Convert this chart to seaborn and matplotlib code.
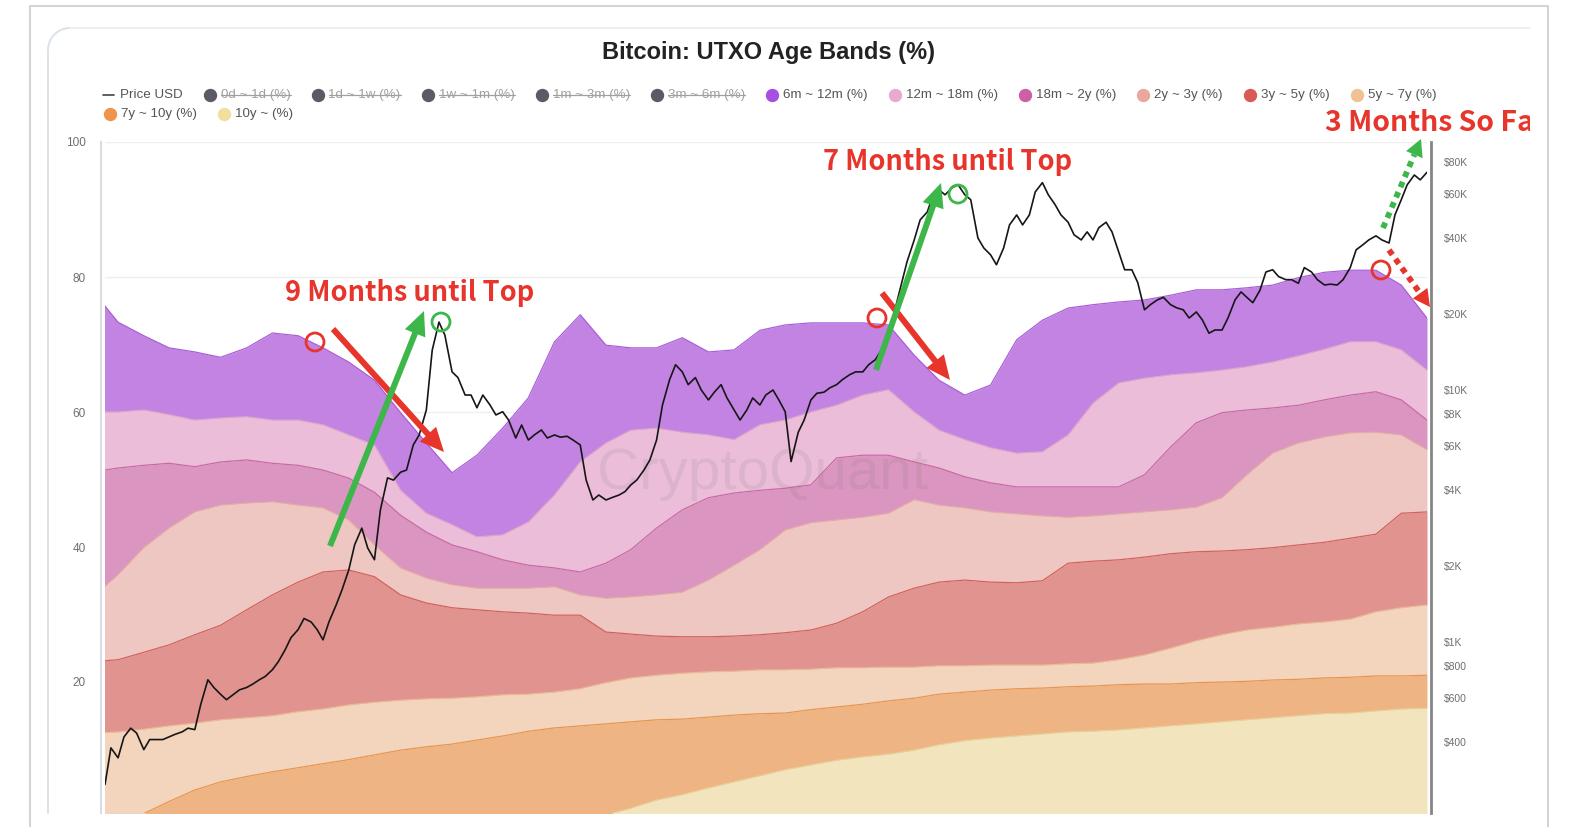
"""Bitcoin UTXO Age Bands (%) con precio en escala log y anotaciones."""

import matplotlib
matplotlib.use("Agg")
import matplotlib.pyplot as plt
from matplotlib.patches import Arc, Circle, FancyArrow
from matplotlib.ticker import NullFormatter, NullLocator
from matplotlib.transforms import Bbox, TransformedBbox
import numpy as np
import pandas as pd
import seaborn as sns

W, H = 1569, 827

# --- Datos: % del supply mas viejo que cada corte (bordes de las bandas) ---
band_dates = pd.date_range("2015-09-01", periods=53, freq="2MS")

older_6m = [78.0, 73.3, 71.3, 69.5, 68.9, 68.1, 69.5, 71.7, 71.3, 69.5,
            67.4, 64.7, 59.9, 55.4, 51.0, 53.6, 57.6, 62.1, 70.4, 74.4,
            69.9, 69.5, 69.5, 71.0, 68.9, 69.2, 72.1, 72.9, 73.2, 73.2,
            73.2, 72.9, 68.4, 64.7, 62.5, 64.0, 70.7, 73.6, 75.4, 75.9,
            76.3, 76.6, 77.3, 78.1, 78.1, 78.4, 78.8, 79.9, 80.7, 81.0,
            81.0, 78.8, 73.9]
older_12m = [60.0, 60.0, 60.3, 59.6, 58.8, 59.1, 59.3, 58.8, 58.8, 58.1,
             56.6, 55.1, 48.4, 45.0, 43.3, 41.5, 41.8, 43.7, 47.7, 52.6,
             55.4, 57.3, 57.6, 57.0, 56.6, 55.9, 58.1, 58.8, 60.0, 61.0,
             62.5, 63.3, 60.0, 57.3, 55.9, 54.7, 53.9, 54.1, 56.6, 61.3,
             64.3, 65.0, 65.5, 65.8, 66.2, 66.7, 67.4, 68.3, 69.3, 70.4,
             70.4, 69.2, 66.2]
older_18m = [51.1, 51.7, 52.1, 52.4, 51.9, 52.6, 52.9, 52.4, 52.1, 51.4,
             50.2, 48.1, 44.7, 42.2, 40.3, 39.3, 38.1, 37.3, 36.9, 36.3,
             37.6, 39.6, 42.8, 45.5, 47.3, 48.0, 48.4, 48.7, 49.2, 53.2,
             53.6, 53.6, 52.6, 51.7, 50.4, 49.5, 48.9, 48.9, 48.9, 48.9,
             48.9, 50.7, 54.8, 58.4, 59.9, 60.3, 60.6, 61.0, 61.8, 62.5,
             63.0, 61.8, 58.8]
older_2y = [32.5, 35.9, 39.9, 42.8, 45.2, 46.2, 46.5, 46.7, 46.2, 45.8,
            44.0, 40.3, 36.9, 35.4, 34.4, 33.9, 33.9, 33.9, 34.1, 32.9,
            32.4, 32.6, 32.9, 33.3, 35.1, 37.3, 39.6, 42.5, 43.6, 44.0,
            44.4, 45.0, 47.0, 46.2, 45.8, 45.2, 44.9, 44.6, 44.4, 44.6,
            44.9, 45.2, 45.5, 45.9, 47.3, 50.7, 53.9, 55.4, 56.3, 56.9,
            57.0, 56.6, 54.4]
older_3y = [23.0, 23.3, 24.4, 25.5, 27.0, 28.4, 30.7, 32.9, 34.8, 36.3,
            36.6, 35.6, 32.9, 31.7, 31.0, 30.7, 30.4, 30.2, 29.9, 29.9,
            27.4, 27.1, 26.8, 26.7, 26.7, 26.8, 27.0, 27.3, 27.7, 28.7,
            30.4, 32.6, 33.9, 34.8, 35.1, 34.8, 34.7, 35.0, 37.6, 37.9,
            38.1, 38.5, 39.0, 39.3, 39.4, 39.6, 39.9, 40.3, 40.7, 41.3,
            41.9, 45.0, 45.2]
older_5y = [12.4, 12.6, 13.0, 13.5, 13.9, 14.4, 14.7, 15.0, 15.6, 16.0,
            16.6, 17.0, 17.3, 17.5, 17.6, 17.8, 18.1, 18.2, 18.5, 19.0,
            19.9, 20.6, 21.0, 21.3, 21.5, 21.6, 21.8, 21.8, 21.9, 22.1,
            22.1, 22.2, 22.2, 22.4, 22.4, 22.5, 22.5, 22.5, 22.7, 22.8,
            23.3, 24.0, 25.0, 26.1, 27.0, 27.7, 28.1, 28.6, 28.9, 29.3,
            30.4, 31.0, 31.4]
older_7y = [0.0, 0.0, 0.5, 2.3, 4.0, 5.2, 6.0, 6.7, 7.3, 7.9,
            8.5, 9.2, 9.9, 10.4, 10.8, 11.4, 12.0, 12.7, 13.2, 13.5,
            13.8, 14.1, 14.4, 14.5, 14.8, 15.1, 15.3, 15.4, 15.9, 16.3,
            16.7, 17.2, 17.6, 18.2, 18.5, 18.8, 19.0, 19.1, 19.3, 19.4,
            19.6, 19.7, 19.7, 19.9, 20.0, 20.1, 20.3, 20.4, 20.6, 20.7,
            20.9, 20.9, 21.0]
older_10y = [0.0, 0.0, 0.0, 0.0, 0.0, 0.0, 0.0, 0.0, 0.0, 0.0,
             0.0, 0.0, 0.0, 0.0, 0.0, 0.0, 0.0, 0.0, 0.0, 0.0,
             0.3, 1.3, 2.5, 3.3, 4.3, 5.2, 6.1, 7.0, 7.7, 8.4,
             8.9, 9.3, 9.9, 10.7, 11.3, 11.7, 12.0, 12.3, 12.6, 12.7,
             12.9, 13.2, 13.5, 13.8, 14.1, 14.4, 14.7, 15.0, 15.3, 15.4,
             15.7, 16.0, 16.1]

# Precio BTC (USD), cada medio mes
price_dates = pd.date_range("2015-10-01", periods=207, freq="SMS")
price_usd = [
    272, 380, 347, 420, 455, 435, 374, 410, 410, 410,
    420, 430, 440, 455, 449, 565, 708, 660, 620, 590,
    620, 646, 660, 680, 708, 730, 776, 835, 930, 1040,
    1120, 1240, 1200, 1120, 1020, 1200, 1400, 1610, 1930, 2430,
    2830, 2360, 2120, 3340, 4480, 4390, 4720, 4810, 6050, 6630,
    8330, 14400, 18600, 16500, 11800, 11200, 9550, 9550, 8500, 9550,
    8720, 7960, 8200, 7600, 6450, 7260, 6330, 6630, 6940, 6450,
    6630, 6500, 6550, 6330, 6050, 4390, 3660, 3830, 3660, 3740,
    3830, 3950, 4200, 4390, 4810, 5270, 6330, 8720, 11000, 12600,
    11800, 10500, 11200, 10000, 9130, 9800, 10500, 9300, 8330, 7600,
    8330, 9300, 8720, 9550, 10000, 9130, 8200, 5200, 6800, 7600,
    9130, 9700, 9800, 10200, 10500, 11000, 11500, 11800, 11800, 12600,
    13200, 14400, 16500, 20400, 26100, 32300, 39400, 47300, 50900, 59500,
    62300, 59500, 63500, 65200, 59500, 56900, 40100, 36600, 34400, 31400,
    36600, 45200, 49500, 45200, 49500, 61100, 66500, 59500, 54400, 49500,
    46300, 41300, 39400, 42400, 39400, 44100, 46300, 42400, 35300, 30000,
    30000, 26700, 20800, 21800, 22800, 23300, 21800, 21200, 20800, 19300,
    20400, 19000, 16800, 17300, 17300, 19300, 22800, 24500, 23300, 22200,
    24900, 29400, 30000, 28200, 27400, 27400, 26500, 30600, 29400, 27400,
    26100, 26300, 26100, 27400, 30600, 36000, 37700, 39400, 40900, 39400,
    38300, 49500, 56900, 65200, 71300, 68200, 73100,
]

pct_ticks = [20, 40, 60, 80, 100]
price_ticks = [400, 600, 800, 1000, 2000, 4000, 6000, 8000,
               10000, 20000, 40000, 60000, 80000]
price_tick_labels = ["$400", "$600", "$800", "$1K", "$2K", "$4K", "$6K", "$8K",
                     "$10K", "$20K", "$40K", "$60K", "$80K"]

hidden_labels = ["0d ~ 1d (%)", "1d ~ 1w (%)", "1w ~ 1m (%)", "1m ~ 3m (%)", "3m ~ 6m (%)"]
band_labels = ["6m ~ 12m (%)", "12m ~ 18m (%)", "18m ~ 2y (%)", "2y ~ 3y (%)",
               "3y ~ 5y (%)", "5y ~ 7y (%)", "7y ~ 10y (%)", "10y ~ (%)"]
band_fill = ["#c383e2", "#ebbdd8", "#da95c0", "#efc7c2",
             "#e0938f", "#f3d4bd", "#efb483", "#f2e4bc"]
band_edge = ["#a85fd8", "#dda6c9", "#c96aa4", "#e4aca6",
             "#d3625d", "#eab995", "#e8964f", "#e7d09a"]
band_dot = ["#a64fe0", "#e9a9d3", "#cd5fa5", "#eaa89d",
            "#d85b55", "#f0c293", "#ef954b", "#f1df9e"]
hidden_dot = "#5b5b66"

RED = "#e7352b"
GREEN = "#3db64a"

sns.set_theme(style="white")
plt.rcParams["font.family"] = ["Liberation Sans", "DejaVu Sans"]
ANNOT_FONT = ["Noto Sans CJK KR", "DejaVu Sans"]

fig = plt.figure(figsize=(W / 100, H / 100), dpi=100)
fig.patch.set_facecolor("white")

# --- Fondo: marco de captura y tarjeta ---
bg = fig.add_axes([0, 0, 1, 1])
bg.set_xlim(0, W)
bg.set_ylim(H, 0)
bg.axis("off")
bg.plot([30, 30, 1548, 1548], [H, 6, 6, H], color="#d4d4d4", lw=1.5)
bg.plot([48, 48], [813, 50], color="#dbe2ea", lw=1.4)
bg.add_patch(Arc((70, 50), 44, 44, theta1=180, theta2=270, color="#dbe2ea", lw=1.4))
bg.plot([70, 1530], [28, 28], color="#e9edf2", lw=1.2)

# --- Grafico principal ---
ax = fig.add_axes([105 / W, 1 - 813 / H, 1322 / W, 671 / H])
ax.set_facecolor("white")

levels = [older_6m, older_12m, older_18m, older_2y, older_3y,
          older_5y, older_7y, older_10y, np.zeros(len(band_dates))]
for i in range(len(band_labels)):
    ax.fill_between(band_dates, levels[i + 1], levels[i],
                    color=band_fill[i], lw=0, zorder=2)
    ax.plot(band_dates, levels[i], color=band_edge[i], lw=0.9, zorder=3)

ax.set_xlim(pd.Timestamp("2015-10-01"), pd.Timestamp("2024-05-01"))
ax.set_ylim(4 / 6.75, 100)
ax.set_yticks(pct_ticks)
ax.set_yticklabels([str(t) for t in pct_ticks])
ax.grid(axis="y", color="#efefef", lw=1)
ax.set_axisbelow(True)
ax.tick_params(axis="x", bottom=False, labelbottom=False)
ax.tick_params(axis="y", left=False, length=0, pad=10.8, labelsize=8.5, labelcolor="#6f6f6f")
for lbl in ax.get_yticklabels():
    lbl.set_horizontalalignment("left")
for side in ["top", "bottom", "right"]:
    ax.spines[side].set_visible(False)
ax.spines["left"].set_position(("outward", 3))
ax.spines["left"].set_color("#d9dde3")
ax.spines["left"].set_linewidth(1.5)
ax.set_xlabel("")
ax.text(0.497, 0.505, "CryptoQuant", transform=ax.transAxes, ha="center", va="center",
        fontsize=42, color="#777777", alpha=0.13, zorder=5)

# Precio en eje derecho logaritmico
ax2 = ax.twinx()
price_df = pd.DataFrame({"date": price_dates, "price": price_usd})
sns.lineplot(data=price_df, x="date", y="price", ax=ax2, color="#161616", linewidth=1.2)
ax2.set_yscale("log")
ax2.set_ylim(209.6, 96400)
ax2.set_xlim(pd.Timestamp("2015-10-01"), pd.Timestamp("2024-05-01"))
ax2.set_yticks(price_ticks)
ax2.set_yticklabels(price_tick_labels)
ax2.yaxis.set_minor_locator(NullLocator())
ax2.yaxis.set_minor_formatter(NullFormatter())
ax2.tick_params(axis="y", right=False, length=0, pad=9.4, labelsize=7.5, labelcolor="#6f6f6f")
ax2.tick_params(axis="x", bottom=False, labelbottom=False)
ax2.set_xlabel("")
ax2.set_ylabel("")
for side in ["top", "bottom", "left"]:
    ax2.spines[side].set_visible(False)
ax2.spines["right"].set_position(("outward", 3))
ax2.spines["right"].set_color("#858585")
ax2.spines["right"].set_linewidth(2)

# --- Capa de anotaciones en pixeles ---
ov = fig.add_axes([0, 0, 1, 1])
ov.set_xlim(0, W)
ov.set_ylim(H, 0)
ov.axis("off")

ov.text(769, 52, "Bitcoin: UTXO Age Bands (%)", ha="center", va="center",
        fontsize=17, fontweight="bold", color="#222222")

# Leyenda en flujo, como la del sitio
renderer = fig.canvas.get_renderer()
inv = ov.transData.inverted()
LEG_FS = 9.6


def text_span(t):
    bb = t.get_window_extent(renderer)
    return inv.transform((bb.x1, bb.y0))[0], inv.transform((bb.x0, bb.y0))[0]


row_y = [95, 114]
row = 0
ov.plot([103, 114], [row_y[0], row_y[0]], color="#444444", lw=1.2)
t = ov.text(120, row_y[0], "Price USD", va="center", fontsize=LEG_FS, color="#555555")
x = text_span(t)[0] + 21

items = [(lab, hidden_dot, True) for lab in hidden_labels]
items += [(lab, c, False) for lab, c in zip(band_labels, band_dot)]
for lab, c, hidden in items:
    t = ov.text(x + 17, row_y[row], lab, va="center", fontsize=LEG_FS,
                color="#a0a0a0" if hidden else "#555555")
    x1, x0 = text_span(t)
    if x1 > 1450:
        row += 1
        x = 104
        t.set_position((x + 17, row_y[row]))
        x1, x0 = text_span(t)
    ov.plot(x + 6, row_y[row], "o", ms=8.6, color=c, mec=c)
    if hidden:
        ov.plot([x0, x1], [row_y[row], row_y[row]], color="#a0a0a0", lw=0.9)
    x = x1 + 21


def arrow(tail, tip, color, dotted=False):
    (x0, y0), (x1, y1) = tail, tip
    if not dotted:
        ov.add_patch(FancyArrow(x0, y0, x1 - x0, y1 - y0, width=6, head_width=22,
                                head_length=24, length_includes_head=True,
                                color=color, lw=0))
        return
    L = np.hypot(x1 - x0, y1 - y0)
    ux, uy = (x1 - x0) / L, (y1 - y0) / L
    hl = 17
    bx, by = x1 - ux * hl, y1 - uy * hl
    ov.plot([x0, bx], [y0, by], color=color, lw=4.2, linestyle=(0, (1.0, 0.9)),
            dash_capstyle="butt")
    ov.add_patch(FancyArrow(bx, by, x1 - bx, y1 - by, width=0.5, head_width=18,
                            head_length=hl, length_includes_head=True, color=color, lw=0))


def ring(xy, color):
    ov.add_patch(Circle(xy, 9, fill=False, ec=color, lw=2))


# Ciclo 2017
ring((315, 342), RED)
arrow((333, 329), (444, 452), RED)
arrow((330, 546), (424, 311), GREEN)
ring((441, 322), GREEN)
ov.text(410, 293, "9 Months until Top", ha="center", va="center", fontsize=19.6,
        fontweight="bold", color=RED, family=ANNOT_FONT)

# Ciclo 2021
ring((877, 318), RED)
arrow((882, 293), (950, 380), RED)
arrow((876, 370), (941, 183), GREEN)
ring((958, 194), GREEN)
ov.text(948, 162, "7 Months until Top", ha="center", va="center", fontsize=19.6,
        fontweight="bold", color=RED, family=ANNOT_FONT)

# Ciclo actual
ring((1381, 270), RED)
arrow((1389, 250), (1430, 307), RED, dotted=True)
arrow((1383, 228), (1421, 139), GREEN, dotted=True)
t = ov.text(1325, 123, "3 Months So Far", ha="left", va="center", fontsize=20.4,
            fontweight="bold", color=RED, family=ANNOT_FONT)
t.set_clip_box(TransformedBbox(Bbox([[0, 0], [1530, H]]), ov.transData))
t.set_clip_on(True)

fig.savefig("out.png", dpi=100)
